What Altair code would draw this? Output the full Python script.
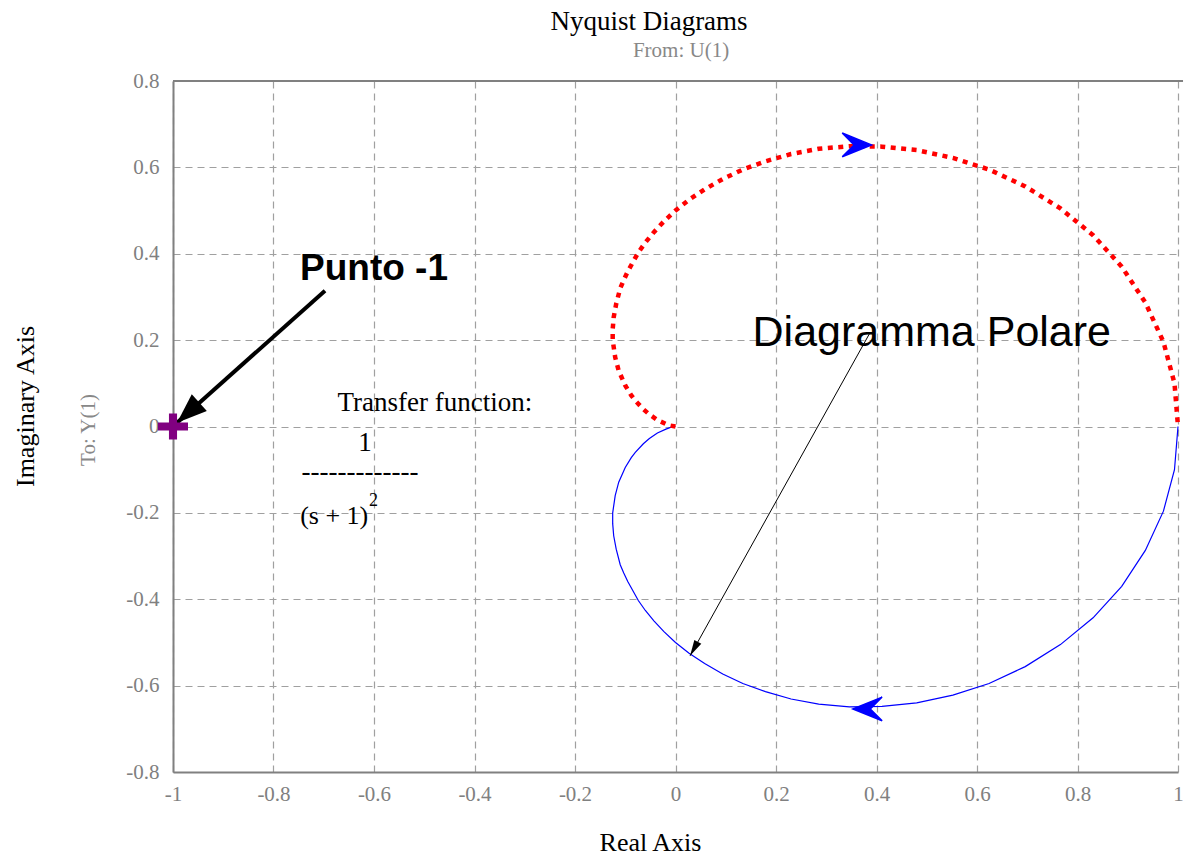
import altair as alt
import pandas as pd

# Nyquist locus of 1/(s+1)^2, positive frequencies (solid blue, from 1 to the origin)
pos_re = [1.000, 0.993, 0.971, 0.935, 0.888, 0.831, 0.766, 0.696, 0.624, 0.552,
          0.480, 0.411, 0.346, 0.285, 0.230, 0.179, 0.134, 0.094, 0.058, 0.027,
          0.000, -0.023, -0.043, -0.060, -0.074, -0.095, -0.103, -0.110, -0.118,
          -0.123, -0.125, -0.125, -0.120, -0.113, -0.100, -0.088, -0.080, -0.064,
          -0.052, -0.036, -0.019, -0.010, 0.000]
pos_im = [0.000, -0.100, -0.196, -0.287, -0.370, -0.443, -0.505, -0.556, -0.595,
          -0.622, -0.640, -0.648, -0.649, -0.643, -0.631, -0.614, -0.595, -0.573,
          -0.549, -0.525, -0.500, -0.475, -0.450, -0.426, -0.403, -0.359, -0.339,
          -0.320, -0.284, -0.253, -0.225, -0.200, -0.160, -0.129, -0.095, -0.072,
          -0.060, -0.040, -0.028, -0.015, -0.006, -0.002, 0.000]

# Negative frequencies (dotted red, from the origin back to 1)
neg_re = [0.000, -0.010, -0.019, -0.036, -0.052, -0.064, -0.080, -0.088, -0.100,
          -0.113, -0.120, -0.125, -0.125, -0.123, -0.118, -0.110, -0.103, -0.095,
          -0.074, -0.060, -0.043, -0.023, 0.000, 0.027, 0.058, 0.094, 0.134,
          0.179, 0.230, 0.285, 0.346, 0.411, 0.480, 0.552, 0.624, 0.696, 0.766,
          0.831, 0.888, 0.935, 0.971, 0.993, 1.000]
neg_im = [0.000, 0.002, 0.006, 0.015, 0.028, 0.040, 0.060, 0.072, 0.095, 0.129,
          0.160, 0.200, 0.225, 0.253, 0.284, 0.320, 0.339, 0.359, 0.403, 0.426,
          0.450, 0.475, 0.500, 0.525, 0.549, 0.573, 0.595, 0.614, 0.631, 0.643,
          0.649, 0.648, 0.640, 0.622, 0.595, 0.556, 0.505, 0.443, 0.370, 0.287,
          0.196, 0.100, 0.000]

# Direction markers on the locus (tip positions)
dir_right = (0.390, 0.652)
dir_left = (0.353, -0.654)

# Critical point
crit_x, crit_y = [-1.0], [0.0]

# Annotation arrows: start and tip
ann_thick = dict(x=[-0.6975], y=[0.3145], x2=[-0.992], y2=[0.0086])
ann_thin = dict(x=[0.387], y=[0.217], x2=[0.029], y2=[-0.531])

x_ticks = [-1, -0.8, -0.6, -0.4, -0.2, 0, 0.2, 0.4, 0.6, 0.8, 1]
y_ticks = [-0.8, -0.6, -0.4, -0.2, 0, 0.2, 0.4, 0.6, 0.8]

GRAY = "#808080"
SERIF = "Liberation Serif"
SANS = "Liberation Sans"

label_expr = "toString(round(datum.value*10)/10)"

x_enc = alt.X(
    "x:Q",
    scale=alt.Scale(domain=[-1, 1], nice=False, zero=False),
    axis=alt.Axis(
        values=x_ticks, title="Real Axis", grid=True, gridDash=[7, 5],
        gridColor="#a0a0a0", gridWidth=1.2, domainColor=GRAY, domainWidth=2,
        ticks=False, labelFont=SERIF, labelFontSize=21, labelColor=GRAY,
        labelPadding=11, labelExpr=label_expr, labelFlush=False,
        labelOverlap=False, titleFont=SERIF, titleFontSize=26,
        titleFontWeight="normal", titleColor="black", titleX=477, titleY=78,
        titleBaseline="alphabetic",
    ),
)
y_enc = alt.Y(
    "y:Q",
    scale=alt.Scale(domain=[-0.8, 0.8], nice=False, zero=False),
    axis=alt.Axis(
        values=y_ticks, title="Imaginary Axis", grid=True, gridDash=[7, 5],
        gridColor="#a0a0a0", gridWidth=1.2, domainColor=GRAY, domainWidth=2,
        ticks=False, labelFont=SERIF, labelFontSize=21, labelColor=GRAY,
        labelPadding=14, labelExpr=label_expr, labelFlush=False,
        labelOverlap=False, titleFont=SERIF, titleFontSize=26,
        titleFontWeight="normal", titleColor="black", titleX=-140, titleY=325,
        titleBaseline="alphabetic",
    ),
)

pos_df = pd.DataFrame({"x": pos_re, "y": pos_im, "i": range(len(pos_re))})
neg_df = pd.DataFrame({"x": neg_re, "y": neg_im, "i": range(len(neg_re))})

blue_line = alt.Chart(pos_df).mark_line(color="#0000ff", strokeWidth=1.2).encode(
    x=x_enc, y=y_enc, order="i:Q"
)
red_line = alt.Chart(neg_df).mark_line(
    color="#ff0000", strokeWidth=4.5, strokeDash=[5, 5.5], strokeCap="butt"
).encode(x=x_enc, y=y_enc, order="i:Q")

# top frame line
frame_df = pd.DataFrame({"x": [-1.0], "x2": [1.01], "y": [0.8]})
top_frame = alt.Chart(frame_df).mark_rule(color=GRAY, strokeWidth=2).encode(
    x=x_enc, x2="x2:Q", y=y_enc
)

chevron_r = "M0,0 L-1.85,-0.75 L-1.1,0 L-1.85,0.75 Z"
chevron_l = "M0,0 L1.85,-0.75 L1.1,0 L1.85,0.75 Z"
arr_r = alt.Chart(pd.DataFrame({"x": [dir_right[0]], "y": [dir_right[1]]})).mark_point(
    shape=chevron_r, filled=True, color="#0000ff", size=1000, opacity=1,
    stroke="#0000ff", strokeWidth=1.5
).encode(x=x_enc, y=y_enc)
arr_l = alt.Chart(pd.DataFrame({"x": [dir_left[0]], "y": [dir_left[1]]})).mark_point(
    shape=chevron_l, filled=True, color="#0000ff", size=1000, opacity=1,
    stroke="#0000ff", strokeWidth=1.5
).encode(x=x_enc, y=y_enc)

plus_path = ("M-1,-0.27 L-0.27,-0.27 L-0.27,-0.87 L0.27,-0.87 L0.27,-0.27 L1,-0.27 "
             "L1,0.27 L0.27,0.27 L0.27,0.87 L-0.27,0.87 L-0.27,0.27 L-1,0.27 Z")
crit = alt.Chart(pd.DataFrame({"x": crit_x, "y": crit_y})).mark_point(
    shape=plus_path, filled=True, color="#800080", size=900, opacity=1, strokeWidth=0
).encode(x=x_enc, y=y_enc)

thick_df = pd.DataFrame(ann_thick)
thin_df = pd.DataFrame(ann_thin)
thick_shaft = alt.Chart(thick_df).mark_rule(color="black", strokeWidth=4).encode(
    x=x_enc, y=y_enc, x2="x2:Q", y2="y2:Q"
)
thin_shaft = alt.Chart(thin_df).mark_rule(color="black", strokeWidth=1).encode(
    x=x_enc, y=y_enc, x2="x2:Q", y2="y2:Q"
)
head_path = "M0,0 L-2,-0.75 L-2,0.75 Z"
thin_head_path = "M0,0 L-2,-0.5 L-2,0.5 Z"
thick_head = alt.Chart(
    pd.DataFrame({"x": ann_thick["x2"], "y": ann_thick["y2"]})
).mark_point(
    shape=head_path, filled=True, color="black", size=900, opacity=1,
    strokeWidth=0, angle=138
).encode(x=x_enc, y=y_enc)
thin_head = alt.Chart(
    pd.DataFrame({"x": ann_thin["x2"], "y": ann_thin["y2"]})
).mark_point(
    shape=thin_head_path, filled=True, color="black", size=256, opacity=1,
    strokeWidth=0, angle=119
).encode(x=x_enc, y=y_enc)

# Annotations inside the plot
big_labels = pd.DataFrame({
    "x": [-0.6, 0.51], "y": [0.340, 0.187],
    "t": ["Punto -1", "Diagramma Polare"],
})
punto = alt.Chart(big_labels.iloc[[0]]).mark_text(
    font=SANS, fontWeight="bold", fontSize=37, align="center",
    baseline="alphabetic", color="black"
).encode(x=x_enc, y=y_enc, text="t:N")
polare = alt.Chart(big_labels.iloc[[1]]).mark_text(
    font=SANS, fontSize=43, align="center", baseline="alphabetic", color="black"
).encode(x=x_enc, y=y_enc, text="t:N")

tf_df = pd.DataFrame({
    "x": [-0.479, -0.618, -0.628],
    "y": [0.036, -0.056, -0.124],
    "t": ["Transfer function:", "1", "-------------"],
})
tf_text = alt.Chart(tf_df).mark_text(
    font=SERIF, fontSize=27, align="center", baseline="alphabetic", color="black"
).encode(x=x_enc, y=y_enc, text="t:N")
den_df = pd.DataFrame({"x": [-0.747], "y": [-0.225], "t": ["(s + 1)"]})
den_text = alt.Chart(den_df).mark_text(
    font=SERIF, fontSize=26, align="left", baseline="alphabetic", color="black"
).encode(x=x_enc, y=y_enc, text="t:N")
sup_df = pd.DataFrame({"x": [-0.610], "y": [-0.185], "t": ["2"]})
sup_text = alt.Chart(sup_df).mark_text(
    font=SERIF, fontSize=18, align="left", baseline="alphabetic", color="black"
).encode(x=x_enc, y=y_enc, text="t:N")

# Header and side captions
title = alt.Chart(pd.DataFrame({"t": ["Nyquist Diagrams"]})).mark_text(
    font=SERIF, fontSize=27, align="center", baseline="alphabetic", color="black"
).encode(x=alt.value(476), y=alt.value(-51), text="t:N")
subtitle = alt.Chart(pd.DataFrame({"t": ["From: U(1)"]})).mark_text(
    font=SERIF, fontSize=21, align="center", baseline="alphabetic", color="#888888"
).encode(x=alt.value(508), y=alt.value(-24), text="t:N")
to_label = alt.Chart(pd.DataFrame({"t": ["To: Y(1)"]})).mark_text(
    font=SERIF, fontSize=21, align="center", baseline="alphabetic",
    color="#888888", angle=270
).encode(x=alt.value(-78), y=alt.value(349), text="t:N")

chart = alt.layer(
    top_frame, blue_line, red_line, arr_r, arr_l, thick_shaft, thin_shaft,
    thick_head, thin_head, crit, punto, polare, tf_text, den_text, sup_text,
    title, subtitle, to_label,
).properties(
    width=1005, height=691,
    autosize=alt.AutoSizeParams(type="none"),
    padding={"left": 173, "top": 81, "right": 7, "bottom": 83},
    background="white",
).configure_view(stroke=None)

chart.save("out.html", embed_options={"renderer": "svg", "actions": False})
